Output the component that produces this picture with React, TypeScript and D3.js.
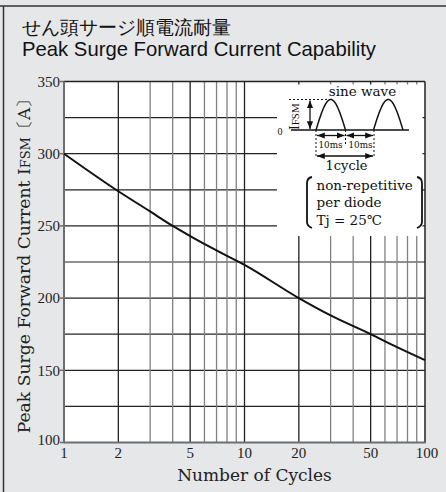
import React from 'react';
import * as d3 from 'd3';

const cycles = [1, 2, 3, 4, 5, 7, 10, 20, 30, 50, 70, 100];
const surgeCurrent = [300, 274, 260, 250, 243, 233, 223, 200, 188, 175, 166, 157];
const xTickLabels = [1, 2, 5, 10, 20, 50, 100];
const yTickLabels = [100, 150, 200, 250, 300, 350];
const yGridValues = [100, 125, 150, 175, 200, 225, 250, 275, 300, 325, 350];
const xGridValues = [2, 3, 4, 5, 6, 7, 8, 9, 10, 20, 30, 40, 50, 60, 70, 80, 90];
const xMajor = [2, 5, 10, 20, 50];

const W = 446;
const H = 492;
const L = 64, R = 425, T = 81.5, B = 442.5;
const serif = "'Liberation Serif', 'DejaVu Serif', serif";
const wide = "'DejaVu Serif', serif";
const sans = "'Liberation Sans', Arial, sans-serif";

export default function App() {
  const x = d3.scaleLog().domain([1, 100]).range([L, R]);
  const y = d3.scaleLinear().domain([100, 350]).range([B, T]);
  const line = d3.line<number>().x((_, i) => x(cycles[i])).y((d) => y(d)).curve(d3.curveMonotoneX);

  // inset sine diagram geometry
  const base = 130;
  const peak = 99.5;
  const humps = [[316, 345.5], [373.5, 403]];
  const humpPath = (a: number, b: number) => {
    const pts = d3.range(0, 41).map((i) => {
      const t = i / 40;
      return [a + (b - a) * t, base - (base - peak) * Math.sin(Math.PI * t)] as [number, number];
    });
    return d3.line()(pts) || '';
  };

  return (
    <div style={{ position: 'fixed', left: 0, top: 0 }}>
      <svg width={W} height={H} style={{ display: 'block' }}>
        <defs>
          <marker id="ah" viewBox="0 0 10 10" refX="10" refY="5" markerWidth="6" markerHeight="6" orient="auto-start-reverse">
            <path d="M0,1 L10,5 L0,9 z" fill="#111" />
          </marker>
        </defs>
        <rect x={0} y={0} width={W} height={H} fill="#e6e7e9" />
        <line x1={0} x2={W} y1={6} y2={6} stroke="#333" strokeWidth={1.5} />
        <line x1={3.5} x2={3.5} y1={6} y2={H} stroke="#333" strokeWidth={1.5} />

        <text x={22} y={33.5} fontFamily={sans} fontSize={18.5} fill="#111">せん頭サージ順電流耐量</text>
        <text x={22} y={56} fontFamily={sans} fontSize={20.3} fill="#111">Peak Surge Forward Current Capability</text>

        <rect x={L} y={T} width={R - L} height={B - T} fill="#fff" />

        {yGridValues.map((v) => (
          <line key={'h' + v} x1={L} x2={R} y1={y(v)} y2={y(v)} stroke="#222" strokeWidth={1.2} />
        ))}
        {xGridValues.map((v) => (
          <line key={'v' + v} x1={x(v)} x2={x(v)} y1={T} y2={B}
            stroke={xMajor.includes(v) ? '#222' : '#808080'} strokeWidth={1.3} />
        ))}

        {/* inset box */}
        <rect x={277} y={84.5} width={145.5} height={151.5} fill="#fff" />
        <line x1={R} x2={R} y1={T} y2={B} stroke="#222" strokeWidth={1.5} />
        <line x1={L} x2={R} y1={T} y2={T} stroke="#222" strokeWidth={1.5} />
        <line x1={L} x2={L} y1={T} y2={B + 0.8} stroke="#6e6e6e" strokeWidth={2} />
        <line x1={L} x2={R + 0.8} y1={B} y2={B} stroke="#6e6e6e" strokeWidth={2} />

        {yTickLabels.map((v) => (
          <g key={'yt' + v}>
            <line x1={L - 4} x2={L} y1={y(v)} y2={y(v)} stroke="#6e6e6e" strokeWidth={1.5} />
            <text x={60} y={y(v) - (v === 100 ? 3 : 0)} dy="0.35em" textAnchor="end" fontFamily={serif} fontSize={15} fill="#222">{v}</text>
          </g>
        ))}
        {xTickLabels.map((v) => (
          <text key={'xt' + v} x={x(v) + (v === 100 ? 2 : 0)} y={458} textAnchor="middle" fontFamily={serif} fontSize={15} fill="#222">{v}</text>
        ))}

        <path d={line(surgeCurrent) || ''} fill="none" stroke="#111" strokeWidth={2} />

        {/* inset contents */}
        <text x={362.5} y={96} textAnchor="middle" fontFamily={wide} fontSize={13.5} fill="#111">sine wave</text>
        <line x1={291} x2={409} y1={base} y2={base} stroke="#111" strokeWidth={1.5} />
        {humps.map(([a, b], i) => (
          <path key={'hp' + i} d={humpPath(a, b)} fill="none" stroke="#111" strokeWidth={1.5} />
        ))}
        <text x={280} y={131} dy="0.35em" textAnchor="middle" fontFamily={serif} fontSize={10} fill="#111">0</text>
        <line x1={289} x2={330} y1={peak} y2={peak} stroke="#111" strokeWidth={1} strokeDasharray="2,2" />
        <text transform={`translate(299,${base}) rotate(-90)`} fontFamily={serif} fill="#111">
          <tspan fontSize={14}>I</tspan><tspan fontSize={11}>FSM</tspan>
        </text>
        <line x1={310} x2={310} y1={peak + 1} y2={base - 1} stroke="#111" strokeWidth={1.3} markerStart="url(#ah)" markerEnd="url(#ah)" />
        <line x1={316} x2={316} y1={base} y2={158} stroke="#111" strokeWidth={1} strokeDasharray="2,2" />
        <line x1={345.5} x2={345.5} y1={base} y2={146} stroke="#111" strokeWidth={1} strokeDasharray="2,2" />
        <line x1={374} x2={374} y1={base} y2={158} stroke="#111" strokeWidth={1} strokeDasharray="2,2" />
        <line x1={317} x2={344.5} y1={135.5} y2={135.5} stroke="#111" strokeWidth={1.3} markerStart="url(#ah)" markerEnd="url(#ah)" />
        <line x1={346.5} x2={373} y1={135.5} y2={135.5} stroke="#111" strokeWidth={1.3} markerStart="url(#ah)" markerEnd="url(#ah)" />
        <text x={330.5} y={147.5} textAnchor="middle" fontFamily={wide} fontSize={8.8} fill="#111">10ms</text>
        <text x={360.5} y={147.5} textAnchor="middle" fontFamily={wide} fontSize={8.8} fill="#111">10ms</text>
        <line x1={317} x2={373} y1={156} y2={156} stroke="#111" strokeWidth={1.3} markerStart="url(#ah)" markerEnd="url(#ah)" />
        <text x={346.5} y={170} textAnchor="middle" fontFamily={wide} fontSize={13} fill="#111">1cycle</text>

        <path d="M312,177 Q307,178 307,183 L307,222 Q307,226 312,228" fill="none" stroke="#111" strokeWidth={1.8} />
        <path d="M417,177 Q422,178 422,183 L422,222 Q422,226 417,228" fill="none" stroke="#111" strokeWidth={1.8} />
        <text x={316.5} y={190} fontFamily={wide} fontSize={13.5} fill="#111">non-repetitive</text>
        <text x={316.5} y={207} fontFamily={wide} fontSize={13.5} fill="#111">per diode</text>
        <text x={316.5} y={224.5} fontFamily={wide} fontSize={13.5} fill="#111">Tj = 25℃</text>

        {/* axis titles */}
        <text x={(L + R) / 2 + 10} y={481} textAnchor="middle" fontFamily={wide} fontSize={17} fill="#222">Number of Cycles</text>
        <text transform={`translate(30,${(T + B) / 2}) rotate(-90)`} textAnchor="middle" fontFamily={wide} fontSize={17.2} fill="#222">
          Peak Surge Forward Current I<tspan fontSize={13}>FSM</tspan>〔A〕
        </text>
      </svg>
    </div>
  );
}
